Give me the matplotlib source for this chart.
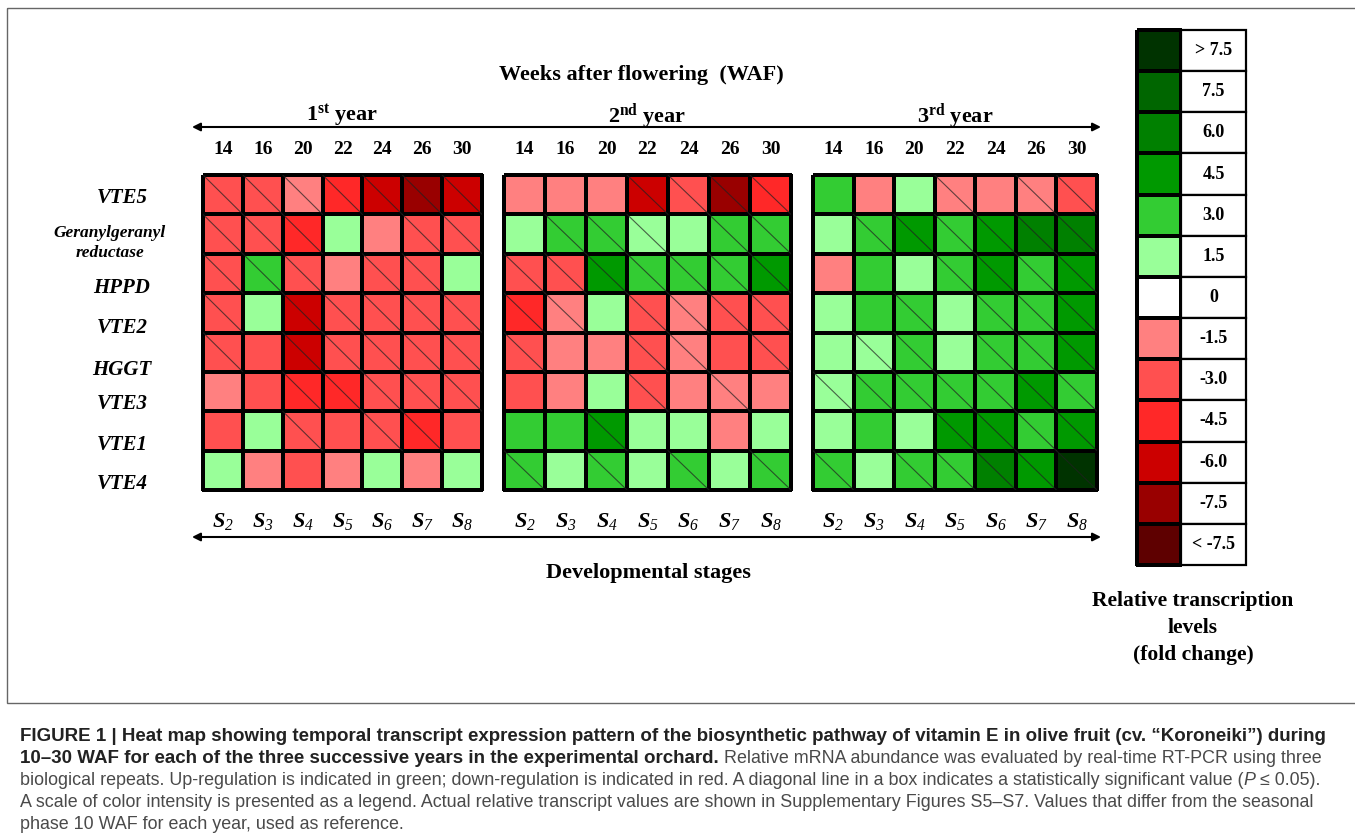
import numpy as np
import matplotlib.pyplot as plt
from matplotlib import font_manager
from matplotlib.colors import ListedColormap, BoundaryNorm
from matplotlib.patches import Rectangle

plt.rcParams['mathtext.fontset'] = 'custom'
plt.rcParams['mathtext.it'] = 'Liberation Serif:italic:bold'
plt.rcParams['mathtext.sf'] = 'Liberation Serif:italic'
plt.rcParams['mathtext.bf'] = 'Liberation Serif:bold'

# ---- data ----
genes = ['VTE5', 'Geranylgeranyl\nreductase', 'HPPD', 'VTE2', 'HGGT', 'VTE3', 'VTE1', 'VTE4']
weeks = ['14', '16', '20', '22', '24', '26', '30']
stages = ['2', '3', '4', '5', '6', '7', '8']
year_names = [r'$\mathbf{1^{st}}$ year', r'$\mathbf{2^{nd}}$ year', r'$\mathbf{3^{rd}}$ year']

# legend bins (9 / -9 stand for ">7.5" / "<-7.5")
legend_values = [9.0, 7.5, 6.0, 4.5, 3.0, 1.5, 0.0, -1.5, -3.0, -4.5, -6.0, -7.5, -9.0]
legend_labels = ['> 7.5', '7.5', '6.0', '4.5', '3.0', '1.5', '0',
                 '-1.5', '-3.0', '-4.5', '-6.0', '-7.5', '< -7.5']
legend_colors = ['#003300', '#006600', '#008000', '#009900', '#33cc33', '#99ff99', '#ffffff',
                 '#ff8080', '#ff5050', '#ff2828', '#cc0000', '#990000', '#5e0000']

year1 = [[-3, -3, -1.5, -4.5, -6, -7.5, -6],
         [-3, -3, -4.5, 1.5, -1.5, -3, -3],
         [-3, 3, -3, -1.5, -3, -3, 1.5],
         [-3, 1.5, -6, -3, -3, -3, -3],
         [-3, -3, -6, -3, -3, -3, -3],
         [-1.5, -3, -4.5, -4.5, -3, -3, -3],
         [-3, 1.5, -3, -3, -3, -4.5, -3],
         [1.5, -1.5, -3, -1.5, 1.5, -1.5, 1.5]]
sig1 = [[1, 1, 1, 1, 1, 1, 1],
        [1, 1, 1, 0, 0, 1, 1],
        [1, 1, 1, 0, 1, 1, 0],
        [1, 0, 1, 1, 1, 1, 1],
        [1, 0, 1, 1, 1, 1, 1],
        [0, 0, 1, 1, 1, 1, 1],
        [0, 0, 1, 0, 1, 1, 0],
        [0, 0, 0, 0, 0, 0, 0]]

year2 = [[-1.5, -1.5, -1.5, -6, -3, -7.5, -4.5],
         [1.5, 3, 3, 1.5, 1.5, 3, 3],
         [-3, -3, 4.5, 3, 3, 3, 4.5],
         [-4.5, -1.5, 1.5, -3, -1.5, -3, -3],
         [-3, -1.5, -1.5, -3, -1.5, -3, -3],
         [-3, -1.5, 1.5, -3, -1.5, -1.5, -1.5],
         [3, 3, 4.5, 1.5, 1.5, -1.5, 1.5],
         [3, 1.5, 3, 1.5, 3, 1.5, 3]]
sig2 = [[0, 0, 0, 1, 1, 1, 1],
        [0, 1, 1, 1, 0, 1, 1],
        [1, 1, 1, 1, 1, 1, 1],
        [1, 1, 0, 1, 1, 1, 1],
        [1, 0, 0, 1, 1, 0, 1],
        [0, 0, 0, 1, 0, 1, 0],
        [0, 0, 1, 0, 0, 0, 0],
        [1, 0, 1, 0, 1, 0, 1]]

year3 = [[3, -1.5, 1.5, -1.5, -1.5, -1.5, -3],
         [1.5, 3, 4.5, 3, 4.5, 6, 6],
         [-1.5, 3, 1.5, 3, 4.5, 3, 4.5],
         [1.5, 3, 3, 1.5, 3, 3, 4.5],
         [1.5, 1.5, 3, 1.5, 3, 3, 4.5],
         [1.5, 3, 3, 3, 3, 4.5, 3],
         [1.5, 3, 1.5, 4.5, 4.5, 3, 4.5],
         [3, 1.5, 3, 3, 6, 4.5, 9]]
sig3 = [[0, 0, 0, 1, 0, 1, 1],
        [0, 1, 1, 1, 1, 1, 1],
        [0, 0, 0, 1, 1, 1, 1],
        [0, 0, 1, 0, 1, 1, 1],
        [0, 1, 1, 0, 1, 1, 1],
        [1, 1, 1, 1, 1, 1, 1],
        [0, 0, 0, 1, 1, 1, 1],
        [1, 0, 1, 1, 1, 1, 1]]

caption = [
    'FIGURE 1 | Heat map showing temporal transcript expression pattern of the biosynthetic pathway '
    'of vitamin E in olive fruit (cv. \u201cKoroneiki\u201d) during',
    '10\u201330 WAF for each of the three successive years in the experimental orchard.',
    ' Relative mRNA abundance was evaluated by real-time RT-PCR using three',
    'biological repeats. Up-regulation is indicated in green; down-regulation is indicated in red. '
    'A diagonal line in a box indicates a statistically significant value (',
    'P',
    ' \u2264 0.05).',
    'A scale of color intensity is presented as a legend. Actual relative transcript values are shown '
    'in Supplementary Figures S5\u2013S7. Values that differ from the seasonal',
    'phase 10 WAF for each year, used as reference.',
]

# ---- layout (pixels) ----
W, H = 1355, 835
blocks_x = [(203, 482), (504, 791), (813, 1097)]
top, bottom = 175, 490
serif = 'Liberation Serif'

names = {f.name for f in font_manager.fontManager.ttflist}
cap_font = 'Liberation Sans Narrow' if 'Liberation Sans Narrow' in names else 'Liberation Sans'

asc = np.array(legend_values[::-1])
cmap = ListedColormap(legend_colors[::-1])
bounds = np.concatenate([[-10], (asc[:-1] + asc[1:]) / 2, [10]])
norm = BoundaryNorm(bounds, cmap.N)

fig = plt.figure(figsize=(W / 100, H / 100), dpi=100)

bg = fig.add_axes([0, 0, 1, 1])
bg.set_xlim(0, W)
bg.set_ylim(H, 0)
bg.axis('off')
bg.add_patch(Rectangle((7, 8), W, 695, fill=False, edgecolor='#666666', lw=1.0))


def axes_px(x0, y0, x1, y1):
    return fig.add_axes([x0 / W, 1 - y1 / H, (x1 - x0) / W, (y1 - y0) / H])


rows = len(genes)
ncol = len(weeks)
for (x0, x1), vals, sig, yname in zip(blocks_x, [year1, year2, year3], [sig1, sig2, sig3], year_names):
    ax = axes_px(x0, top, x1, bottom)
    mesh = ax.pcolormesh(np.array(vals, dtype=float), cmap=cmap, norm=norm,
                         edgecolors='black', linewidth=1.6)
    mesh.set_clip_on(False)
    ax.set_xlim(0, ncol)
    ax.set_ylim(rows, 0)
    ax.axis('off')
    s = np.array(sig)
    for i, j in zip(*np.nonzero(s)):
        ax.plot([j, j + 1], [i, i + 1], color='#202020', lw=0.8, alpha=0.7)
    ch = (bottom - top) / rows
    for j in range(ncol):
        ax.text(j + 0.5, (150 - top) / ch, weeks[j], ha='center', va='center',
                family=serif, weight='bold', fontsize=14, clip_on=False)
        ax.text(j + 0.5, (521 - top) / ch, r'$\mathit{S}_{\mathsf{' + stages[j] + '}}$',
                ha='center', va='center', fontsize=16, clip_on=False)
    ax.text(ncol / 2, (116 - top) / ch, yname, ha='center', va='center',
            family=serif, weight='bold', fontsize=16, clip_on=False)

# gene labels
label_y = [198, 243, 288, 328, 370, 404, 445, 484]
label_x = [122, 110, 122, 122, 122, 122, 122, 122]
for g, x, y in zip(genes, label_x, label_y):
    fs = 12.5 if '\n' in g else 15
    bg.text(x, y, g, ha='center', va='center', family=serif, style='italic',
            weight='bold', fontsize=fs, linespacing=1.4)

# titles and arrows
bg.text(641, 75, 'Weeks after flowering  (WAF)', ha='center', va='center',
        family=serif, weight='bold', fontsize=16)
bg.text(648, 573, 'Developmental stages', ha='center', va='center',
        family=serif, weight='bold', fontsize=16)
for y in (127, 537):
    bg.annotate('', xy=(1101, y), xytext=(192, y),
                arrowprops=dict(arrowstyle='<|-|>', color='black', lw=1.5,
                                mutation_scale=12, shrinkA=0, shrinkB=0))

# legend
lax = axes_px(1137, 30, 1246, 565)
xr = (1246 - 1137) / (1181 - 1137)
nleg = len(legend_values)
lmesh = lax.pcolormesh([0, 1], np.arange(nleg + 1),
                       np.array(legend_values).reshape(-1, 1),
                       cmap=cmap, norm=norm, edgecolors='black', linewidth=1.6)
lmesh.set_clip_on(False)
for i, lab in enumerate(legend_labels):
    lax.add_patch(Rectangle((1, i), xr - 1, 1, facecolor='white', edgecolor='black',
                            lw=1.6, clip_on=False))
    lax.text((1 + xr) / 2, i + 0.5, lab, ha='center', va='center', family=serif,
             weight='bold', fontsize=13)
lax.set_xlim(0, xr)
lax.set_ylim(nleg, 0)
lax.axis('off')

bg.text(1193, 628, 'Relative transcription\nlevels\n(fold change)', ha='center',
        va='center', family=serif, weight='bold', fontsize=15.5, linespacing=1.45)

# caption
cap_base = [741, 763, 785, 807, 829]
bold_c, reg_c = '#222222', '#4a4a4a'
fam = [cap_font, 'DejaVu Sans']
renderer = fig.canvas.get_renderer()


def fit_size(s, target, **kw):
    t = bg.text(0, 0, s, family=fam, fontsize=12, **kw)
    w = t.get_window_extent(renderer).width
    t.remove()
    return 12 * target / w


bsize = fit_size(caption[0], 1300, weight='bold')
rsize = fit_size(caption[6], 1298)

bg.text(20, cap_base[0], caption[0], family=fam, weight='bold', color=bold_c,
        fontsize=bsize, va='baseline')
t2 = bg.text(20, cap_base[1], caption[1], family=fam, weight='bold', color=bold_c,
             fontsize=bsize, va='baseline')
bg.annotate(caption[2], xy=(1, 0), xycoords=t2, ha='left', va='bottom',
            family=fam, fontsize=rsize, color=reg_c)
t3 = bg.text(20, cap_base[2], caption[3], family=fam, color=reg_c, fontsize=rsize,
             va='baseline')
t3b = bg.annotate(caption[4], xy=(1, 0), xycoords=t3, ha='left', va='bottom',
                  family=fam, fontsize=rsize, color=reg_c, style='italic')
bg.annotate(caption[5], xy=(1, 0), xycoords=t3b, ha='left', va='bottom',
            family=fam, fontsize=rsize, color=reg_c)
bg.text(20, cap_base[3], caption[6], family=fam, color=reg_c, fontsize=rsize, va='baseline')
bg.text(20, cap_base[4], caption[7], family=fam, color=reg_c, fontsize=rsize, va='baseline')

fig.savefig('out.png', dpi=100)
